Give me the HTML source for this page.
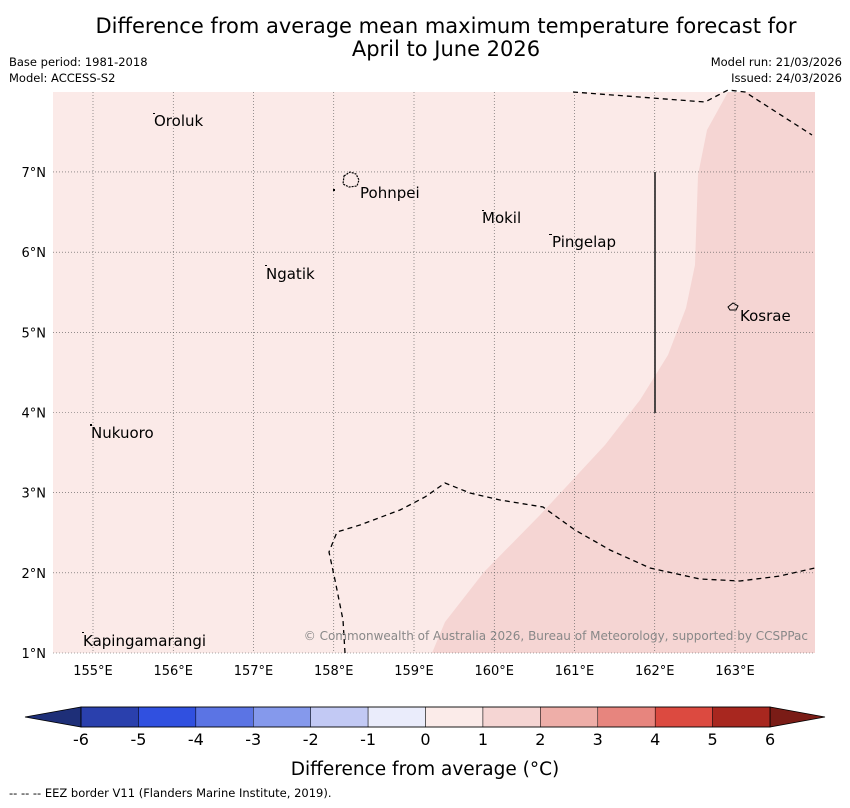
<!DOCTYPE html>
<html><head><meta charset="utf-8"><style>
body{margin:0;background:#fff;width:850px;height:804px;overflow:hidden;font-family:"DejaVu Sans","Liberation Sans",sans-serif}
svg text{font-family:"DejaVu Sans","Liberation Sans",sans-serif}
</style></head><body>
<svg id="chart" width="850" height="804" xmlns="http://www.w3.org/2000/svg">
<text x="446" y="33" font-size="21" text-anchor="middle">Difference from average mean maximum temperature forecast for</text>
<text x="446" y="56" font-size="21" text-anchor="middle">April to June 2026</text>
<text x="9" y="66" font-size="11.5">Base period: 1981-2018</text>
<text x="9" y="82" font-size="11.5">Model: ACCESS-S2</text>
<text x="842" y="66" font-size="11.5" text-anchor="end">Model run: 21/03/2026</text>
<text x="842" y="82" font-size="11.5" text-anchor="end">Issued: 24/03/2026</text>
<g id="map">
<rect x="53" y="92" width="762" height="561" fill="#fbeae8"/>
<polygon points="432,653 445,622 484,572 540,515 605,445 640,400 668,355 686,308 695,265 698,175 707,130 728,92 815,92 815,653" fill="#f5d5d3"/>
<g id="grid"></g>
<g fill="none" stroke="#000" stroke-width="1.3" stroke-dasharray="5,4">
<polyline points="573,92 705,102 728,90 745,92 812,135"/>
<polyline points="345,653 343,620 335,580 329,552 337,532 360,525 400,510 425,497 445,483 470,493 500,500 543,507 575,530 610,550 650,568 700,579 740,581 780,576 815,568"/>
</g>
<line x1="655" y1="172" x2="655" y2="413" stroke="#222" stroke-width="1.6"/>
<path d="M344,176 l6,-4 6,2 3,6 -2,6 -8,1 -6,-3z" fill="none" stroke="#000" stroke-width="1.2" stroke-dasharray="2,1"/>
<path d="M728,307 l5,-4 5,3 -2,4 -6,0z" fill="none" stroke="#000" stroke-width="1"/>
<g fill="#000">
<rect x="153" y="113" width="2" height="1"/><rect x="333" y="189" width="2" height="2"/><rect x="482" y="210" width="2" height="1"/>
<rect x="549" y="234" width="3" height="1"/><rect x="265" y="265" width="2" height="1"/><rect x="90" y="424" width="2" height="2"/><rect x="82" y="632" width="2" height="1"/>
</g>
<g font-size="15">
<text x="154" y="126">Oroluk</text><text x="360" y="198">Pohnpei</text><text x="482" y="223">Mokil</text>
<text x="552" y="247">Pingelap</text><text x="266" y="279">Ngatik</text><text x="740" y="321">Kosrae</text>
<text x="91" y="438">Nukuoro</text><text x="83" y="646">Kapingamarangi</text>
</g>
<text x="808" y="640" font-size="12" fill="#888" text-anchor="end">© Commonwealth of Australia 2026, Bureau of Meteorology, supported by CCSPPac</text>
<g id="axes" font-size="13"></g>
</g>
<g id="cbar"></g>
<text x="425" y="775" font-size="18.5" text-anchor="middle">Difference from average (°C)</text>
<text x="9" y="797" font-size="11.5">--  --  -- EEZ border V11 (Flanders Marine Institute, 2019).</text>
</svg>
<script>
const lonTicks=[155,156,157,158,159,160,161,162,163];
const latTicks=[1,2,3,4,5,6,7];
const levels=[-6,-5,-4,-3,-2,-1,0,1,2,3,4,5,6];
const colors=["#2a40ad","#3050e0","#5b74e4","#8599ec","#c2c9f4","#eaecfb","#fbebe9","#f5d5d3","#eeaea8","#e7857e","#dc4a40","#a8271f"];
const lowColor="#1e2f78",highColor="#7a1c16";
const NS="http://www.w3.org/2000/svg";
const X=lon=>93+(lon-155)*80.25, Y=lat=>653-(lat-1)*80.17;
const cx=v=>81+(v+6)*57.42;
function mk(t,a,p){const e=document.createElementNS(NS,t);for(const k in a)e.setAttribute(k,a[k]);p.appendChild(e);return e;}
const g=document.getElementById('grid'),ax=document.getElementById('axes'),cb=document.getElementById('cbar');
lonTicks.forEach(l=>{const x=X(l);
const ln=mk('line',{x1:x,y1:92,x2:x,y2:653,stroke:'#555','stroke-width':0.6,'stroke-dasharray':'1,2'},g);


const t=mk('text',{x:x,y:675,'text-anchor':'middle'},ax);t.textContent=l+'°E';

});
latTicks.forEach(l=>{const y=Y(l);
const ln=mk('line',{x1:53,y1:y,x2:815,y2:y,stroke:'#555','stroke-width':0.6,'stroke-dasharray':'1,2'},g);


const t=mk('text',{x:46,y:y+5,'text-anchor':'end'},ax);t.textContent=l+'°N';

});
const lt=mk('polygon',{points:`25,717 ${cx(-6)},707 ${cx(-6)},727`,fill:lowColor,stroke:'#000','stroke-width':0.8},cb);


const ht=mk('polygon',{points:`825,717 ${cx(6)},707 ${cx(6)},727`,fill:highColor,stroke:'#000','stroke-width':0.8},cb);


colors.forEach((c,i)=>{const x0=cx(levels[i]),x1=cx(levels[i+1]);
const r=mk('rect',{x:x0,y:707,width:x1-x0,height:20,fill:c,stroke:'#000','stroke-width':0.5},cb);

});
mk('rect',{x:cx(-6),y:707,width:cx(6)-cx(-6),height:20,fill:'none',stroke:'#000','stroke-width':0.8},cb);
levels.forEach(v=>{const t=mk('text',{x:cx(v),y:745,'text-anchor':'middle','font-size':16},cb);t.textContent=v;

});
</script>
</body></html>
